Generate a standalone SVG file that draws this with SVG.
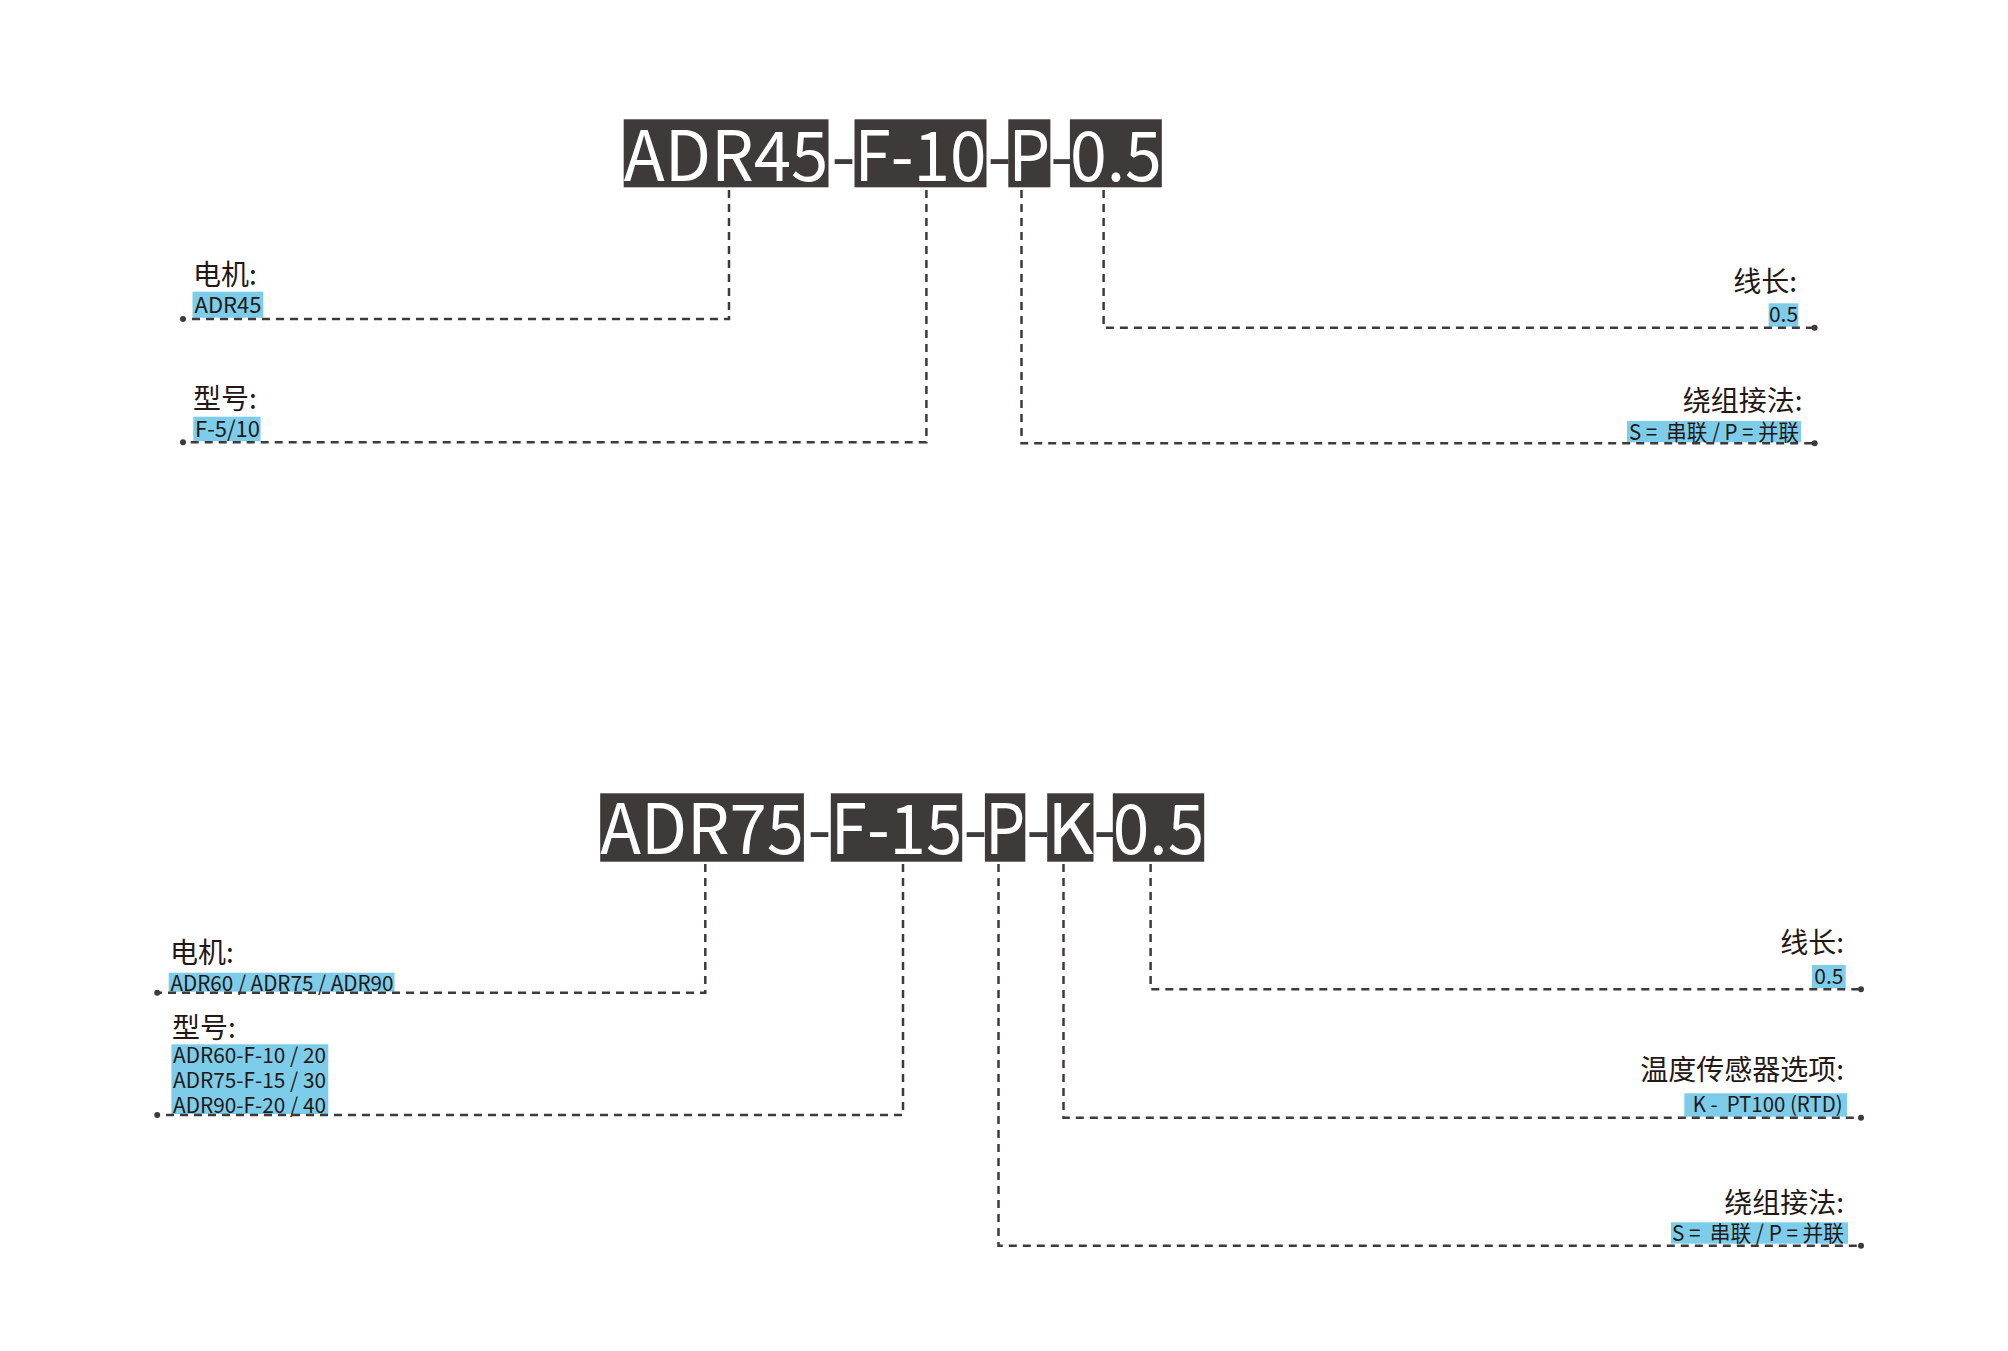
<svg xmlns="http://www.w3.org/2000/svg" width="2008" height="1351" viewBox="0 0 2008 1351">
<style>
  .bg { fill: #ffffff; }
  .box { fill: #3e3a39; }
  .code { font-family: "Noto Sans CJK SC", "Noto Sans", sans-serif; font-size: 69px; fill: #ffffff; }
  .hy { fill: #3e3a39; }
  .lbl { font-family: "Noto Sans CJK SC", "Noto Sans", sans-serif; font-size: 28px; fill: #231815; }
  .r { text-anchor: end; }
  .hl { fill: #7dcdea; }
  .val { font-family: "Noto Sans CJK SC", "Noto Sans", sans-serif; font-size: 22px; fill: #231815; white-space: pre; }
  .v21 { font-size: 21px; }
  .mid { text-anchor: middle; }
  .dash { fill: none; stroke: #3e3a39; stroke-width: 2.5; stroke-dasharray: 8 6; }
  .dot { fill: #3e3a39; }
</style>
<rect class="bg" x="0" y="0" width="2008" height="1351"/>

<!-- ===== Top code ===== -->
<g id="top-code">
  <rect class="box" x="623.7" y="119.3" width="204.8" height="68"/>
  <rect class="box" x="854.5" y="119.3" width="132" height="68"/>
  <rect class="box" x="1008.3" y="119.3" width="42.1" height="68"/>
  <rect class="box" x="1069.9" y="119.3" width="91.9" height="68"/>
  <text class="code" y="180.7"><tspan x="623.7" textLength="204.8" lengthAdjust="spacingAndGlyphs">ADR45</tspan><tspan class="hy" x="831.5">-</tspan><tspan x="854.5" textLength="132" lengthAdjust="spacingAndGlyphs">F-10</tspan><tspan class="hy" x="987.5">-</tspan><tspan x="1008.3" textLength="42.1" lengthAdjust="spacingAndGlyphs">P</tspan><tspan class="hy" x="1050.2">-</tspan><tspan x="1069.9" textLength="91.9" lengthAdjust="spacingAndGlyphs">0.5</tspan></text>
</g>

<g id="top-motor">
  <text class="lbl" x="193" y="285">电机:</text>
  <rect class="hl" x="192.5" y="291.7" width="70.8" height="26"/>
  <text class="val" x="194.5" y="312.7">ADR45</text>
</g>
<g id="top-type">
  <text class="lbl" x="193" y="408.5">型号:</text>
  <rect class="hl" x="193.3" y="416.7" width="67.3" height="24.5"/>
  <text class="val" x="195" y="437">F-5/10</text>
</g>
<g id="top-length">
  <text class="lbl r" x="1797" y="292">线长:</text>
  <rect class="hl" x="1768.6" y="303.3" width="29.8" height="23.4"/>
  <text class="val v21 mid" x="1783.5" y="322">0.5</text>
</g>
<g id="top-winding">
  <text class="lbl r" x="1802.5" y="411">绕组接法:</text>
  <rect class="hl" x="1627" y="421" width="174" height="21.3"/>
  <text class="val" x="1629" y="440" textLength="170" lengthAdjust="spacingAndGlyphs" xml:space="preserve">S =  串联 / P = 并联</text>
</g>

<!-- ===== Bottom code ===== -->
<g id="bottom-code">
  <rect class="box" x="600.2" y="793.3" width="203.7" height="68.4"/>
  <rect class="box" x="830.8" y="793.3" width="131.4" height="68.4"/>
  <rect class="box" x="984.9" y="793.3" width="40.4" height="68.4"/>
  <rect class="box" x="1047.2" y="793.3" width="46.3" height="68.4"/>
  <rect class="box" x="1112.8" y="793.3" width="91.4" height="68.4"/>
  <text class="code" y="854"><tspan x="600.2" textLength="203.7" lengthAdjust="spacingAndGlyphs">ADR75</tspan><tspan class="hy" x="807.4">-</tspan><tspan x="830.8" textLength="131.4" lengthAdjust="spacingAndGlyphs">F-15</tspan><tspan class="hy" x="963.6">-</tspan><tspan x="984.9" textLength="40.4" lengthAdjust="spacingAndGlyphs">P</tspan><tspan class="hy" x="1026.3">-</tspan><tspan x="1047.2" textLength="46.3" lengthAdjust="spacingAndGlyphs">K</tspan><tspan class="hy" x="1093.2">-</tspan><tspan x="1112.8" textLength="91.4" lengthAdjust="spacingAndGlyphs">0.5</tspan></text>
</g>

<g id="bottom-motor">
  <text class="lbl" x="170" y="963">电机:</text>
  <rect class="hl" x="168.7" y="972.7" width="225.8" height="19"/>
  <text class="val v21" x="170.5" y="990.5" textLength="223" lengthAdjust="spacingAndGlyphs">ADR60 / ADR75 / ADR90</text>
</g>
<g id="bottom-type">
  <text class="lbl" x="172" y="1038">型号:</text>
  <rect class="hl" x="171.4" y="1044.3" width="156.9" height="69.7"/>
  <text class="val v21" x="173" y="1062.7" textLength="153" lengthAdjust="spacingAndGlyphs">ADR60-F-10 / 20</text>
  <text class="val v21" x="173" y="1088" textLength="153" lengthAdjust="spacingAndGlyphs">ADR75-F-15 / 30</text>
  <text class="val v21" x="173" y="1112.5" textLength="153" lengthAdjust="spacingAndGlyphs">ADR90-F-20 / 40</text>
</g>
<g id="bottom-length">
  <text class="lbl r" x="1844" y="953">线长:</text>
  <rect class="hl" x="1812" y="965" width="33.7" height="23.3"/>
  <text class="val v21 mid" x="1828.9" y="984">0.5</text>
</g>
<g id="bottom-sensor">
  <text class="lbl r" x="1844" y="1080">温度传感器选项:</text>
  <rect class="hl" x="1684.3" y="1093.3" width="162.7" height="23.4"/>
  <text class="val v21" x="1692.7" y="1111.7" textLength="150" lengthAdjust="spacingAndGlyphs" xml:space="preserve">K -  PT100 (RTD)</text>
</g>
<g id="bottom-winding">
  <text class="lbl r" x="1844" y="1213">绕组接法:</text>
  <rect class="hl" x="1671" y="1222.3" width="177" height="21.4"/>
  <text class="val" x="1672" y="1241" textLength="172" lengthAdjust="spacingAndGlyphs" xml:space="preserve">S =  串联 / P = 并联</text>
</g>

<!-- ===== Connectors ===== -->
<g id="connectors">
  <path class="dash" d="M729 190 V319 H186"/>
  <path class="dash" d="M926.4 190 V442.3 H186"/>
  <path class="dash" d="M1021.5 190 V443.3 H1812"/>
  <path class="dash" d="M1103.6 190 V327.7 H1812"/>
  <circle class="dot" cx="183" cy="319" r="3"/>
  <circle class="dot" cx="183" cy="442.3" r="3"/>
  <circle class="dot" cx="1814.6" cy="327.7" r="3"/>
  <circle class="dot" cx="1814.6" cy="443.3" r="3"/>

  <path class="dash" d="M705.3 864 V992.7 H160"/>
  <path class="dash" d="M903 864 V1115 H160"/>
  <path class="dash" d="M998.5 864 V1245.7 H1858"/>
  <path class="dash" d="M1063.5 864 V1117.7 H1858"/>
  <path class="dash" d="M1150.6 864 V989.3 H1858"/>
  <circle class="dot" cx="157.2" cy="992.7" r="3"/>
  <circle class="dot" cx="157.2" cy="1115" r="3"/>
  <circle class="dot" cx="1861" cy="1245.7" r="3"/>
  <circle class="dot" cx="1861" cy="1117.7" r="3"/>
  <circle class="dot" cx="1861" cy="989.3" r="3"/>
</g>
</svg>
